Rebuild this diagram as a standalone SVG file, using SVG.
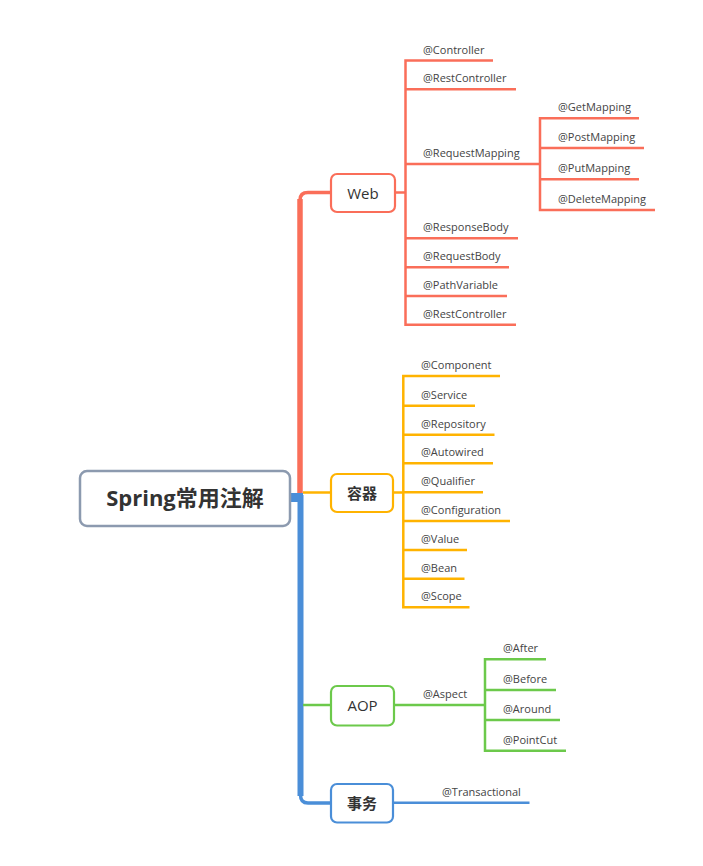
<svg xmlns="http://www.w3.org/2000/svg" width="703" height="866" viewBox="0 0 703 866">
<style>
.lbl{font-family:"Open Sans","Liberation Sans",sans-serif;font-size:11px;fill:#444}
.nt{font-family:"Open Sans","Noto Sans CJK SC",sans-serif;font-size:15px;fill:#333;text-anchor:middle}
.nb{font-family:"Open Sans","Noto Sans CJK SC",sans-serif;font-size:15px;font-weight:bold;fill:#333;text-anchor:middle}
.ln{fill:none;stroke-width:2.5;stroke-linecap:butt;stroke-linejoin:miter}
.r{stroke:#FA6E59}
.y{stroke:#FFB300}
.g{stroke:#6CC94B}
.b{stroke:#4A8ED8}
.box{fill:#fff;stroke-width:2.2}
</style>
<rect width="703" height="866" fill="#fff"/>
<g id="connectors">
  <path d="M300 497 V199" fill="none" stroke="#FA6E59" stroke-width="5.5"/>
  <path d="M300 200 Q300 192.5 308 192.5 H331" fill="none" stroke="#FA6E59" stroke-width="3.5"/>
  <rect x="290" y="493" width="13" height="9" fill="#4A8ED8"/>
  <path d="M300.5 495 V796" fill="none" stroke="#4A8ED8" stroke-width="6"/>
  <path d="M300.5 795 Q300.5 803 308 803 H331" fill="none" stroke="#4A8ED8" stroke-width="3.5"/>
  <path d="M303 492.5 H331" class="ln y"/>
  <path d="M303 705 H331" class="ln g"/>

  <path d="M395 192.5 H405.5" class="ln r"/>
  <path d="M493 60.5 H405.5 V324.7 H516" class="ln r"/>
  <path d="M405.5 89.3 H516" class="ln r"/>
  <path d="M405.5 164 H540" class="ln r"/>
  <path d="M405.5 238.3 H518" class="ln r"/>
  <path d="M405.5 267.3 H509" class="ln r"/>
  <path d="M405.5 296 H507" class="ln r"/>
  <path d="M639 118.3 H540 V210 H655" class="ln r"/>
  <path d="M540 148 H644" class="ln r"/>
  <path d="M540 179.3 H639" class="ln r"/>

  <path d="M393 492.5 H403.3" class="ln y"/>
  <path d="M500 376 H403.3 V607.3 H469.5" class="ln y"/>
  <path d="M403.3 405.7 H475" class="ln y"/>
  <path d="M403.3 434.7 H494.5" class="ln y"/>
  <path d="M403.3 463.3 H493" class="ln y"/>
  <path d="M403.3 492.3 H483" class="ln y"/>
  <path d="M403.3 521 H510" class="ln y"/>
  <path d="M403.3 550 H467" class="ln y"/>
  <path d="M403.3 578.7 H464.5" class="ln y"/>

  <path d="M394 705 H485" class="ln g"/>
  <path d="M546 659.3 H485 V750.7 H566" class="ln g"/>
  <path d="M485 690 H556" class="ln g"/>
  <path d="M485 720 H560" class="ln g"/>

  <path d="M393 802.7 H529.5" class="ln b"/>
</g>

<g id="root">
  <rect x="80" y="471" width="210" height="55" rx="7" fill="#fff" stroke="#8C9AAF" stroke-width="2.5"/>
  <text x="185" y="506" style="font-family:'Open Sans','Noto Sans CJK SC',sans-serif;font-size:22px;font-weight:bold;fill:#333" text-anchor="middle">Spring常用注解</text>
</g>

<g id="web">
  <rect x="331" y="174" width="64" height="38" rx="6" class="box" stroke="#FA6E59"/>
  <text x="363" y="198.5" class="nt">Web</text>
</g>
<g id="web-children">
  <text x="423" y="53.5" class="lbl">@Controller</text>
  <text x="423" y="82.3" class="lbl">@RestController</text>
  <text x="423" y="157" class="lbl">@RequestMapping</text>
  <text x="423" y="231.3" class="lbl">@ResponseBody</text>
  <text x="423" y="260.3" class="lbl">@RequestBody</text>
  <text x="423" y="289" class="lbl">@PathVariable</text>
  <text x="423" y="317.7" class="lbl">@RestController</text>
  <text x="558" y="111.3" class="lbl">@GetMapping</text>
  <text x="558" y="141" class="lbl">@PostMapping</text>
  <text x="558" y="172.3" class="lbl">@PutMapping</text>
  <text x="558" y="203" class="lbl">@DeleteMapping</text>
</g>

<g id="container">
  <rect x="331" y="474" width="62" height="38" rx="6" class="box" stroke="#FFB300"/>
  <text x="362" y="498.5" class="nb">容器</text>
</g>
<g id="container-children">
  <text x="421" y="369" class="lbl">@Component</text>
  <text x="421" y="398.7" class="lbl">@Service</text>
  <text x="421" y="427.7" class="lbl">@Repository</text>
  <text x="421" y="456.3" class="lbl">@Autowired</text>
  <text x="421" y="485.3" class="lbl">@Qualifier</text>
  <text x="421" y="514" class="lbl">@Configuration</text>
  <text x="421" y="543" class="lbl">@Value</text>
  <text x="421" y="571.7" class="lbl">@Bean</text>
  <text x="421" y="600.3" class="lbl">@Scope</text>
</g>

<g id="aop">
  <rect x="331" y="686" width="63" height="39.5" rx="6" class="box" stroke="#6CC94B"/>
  <text x="362.5" y="711" class="nt">AOP</text>
</g>
<g id="aop-children">
  <text x="423" y="698" class="lbl">@Aspect</text>
  <text x="503" y="652.3" class="lbl">@After</text>
  <text x="503" y="683" class="lbl">@Before</text>
  <text x="503" y="713" class="lbl">@Around</text>
  <text x="503" y="743.7" class="lbl">@PointCut</text>
</g>

<g id="transaction">
  <rect x="331" y="784" width="62" height="38.5" rx="6" class="box" stroke="#4A8ED8"/>
  <text x="362" y="808.5" class="nb">事务</text>
  <text x="442" y="795.7" class="lbl">@Transactional</text>
</g>
</svg>
